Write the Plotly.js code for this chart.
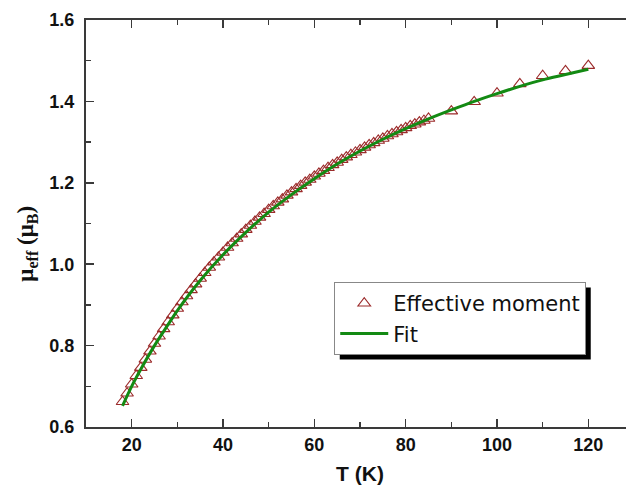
<!DOCTYPE html>
<html>
<head>
<meta charset="utf-8">
<script src="https://cdn.plot.ly/plotly-3.0.1.min.js"></script>
<style>
  html, body { margin: 0; padding: 0; overflow: hidden; background: #fff; }
  #chart { width: 660px; height: 486px; }
</style>
</head>
<body>
<div id="chart"></div>
<script>
// Measured effective moment (T in K, mu_eff in mu_B)
const tempK = [18,19,20,21,22,23,24,25,26,27,28,29,30,31,32,33,34,35,36,37,38,39,40,
  41,42,43,44,45,46,47,48,49,50,51,52,53,54,55,56,57,58,59,60,61,62,63,64,65,66,67,68,69,70,
  71,72,73,74,75,76,77,78,79,80,81,82,83,84,85,90,95,100,105,110,115,120];
const muEff = [0.662,0.683,0.705,0.726,0.746,0.766,0.786,0.805,0.823,0.841,0.858,0.875,0.891,
  0.907,0.922,0.937,0.951,0.965,0.979,0.992,1.005,1.017,1.029,1.041,1.052,1.063,1.074,1.085,
  1.095,1.105,1.115,1.124,1.134,1.143,1.152,1.160,1.169,1.177,1.185,1.193,1.201,1.208,1.216,
  1.223,1.230,1.237,1.244,1.250,1.257,1.263,1.269,1.275,1.281,1.287,1.293,1.298,1.304,1.309,
  1.315,1.320,1.325,1.330,1.335,1.340,1.344,1.349,1.353,1.358,1.376,1.399,1.420,1.443,1.463,
  1.475,1.488];

// Fit curve
const fitT = [18,20,22,25,28,30,35,40,45,50,55,60,65,70,75,80,85,90,95,100,105,110,115,120];
const fitMu = [0.652,0.700,0.742,0.800,0.852,0.886,0.960,1.023,1.078,1.128,1.171,1.210,1.246,
  1.278,1.307,1.333,1.357,1.379,1.400,1.419,1.437,1.453,1.466,1.479];

const xTickVals = [20,40,60,80,100,120];
const yTickVals = [0.6,0.8,1.0,1.2,1.4,1.6];
const seriesNames = ['Effective moment', 'Fit'];

const traces = [
  {
    x: tempK, y: muEff, name: seriesNames[0], type: 'scatter', mode: 'markers',
    marker: { symbol: 'triangle-up-open', size: 11, color: '#9b2a2a', line: { width: 1.1, color: '#9b2a2a' } }
  },
  {
    x: fitT, y: fitMu, name: seriesNames[1], type: 'scatter', mode: 'lines',
    line: { color: '#138a13', width: 3, shape: 'spline', smoothing: 1 }
  }
];

const axisCommon = {
  showline: true, linecolor: '#3a3a3a', linewidth: 2, mirror: 'ticks',
  ticks: 'inside', ticklen: 8, tickwidth: 1.6, tickcolor: '#3a3a3a',
  showgrid: false, zeroline: false,
  tickfont: { family: 'Liberation Sans, Arial, sans-serif', size: 18, color: '#111', weight: 'bold' }
};

const layout = {
  width: 660, height: 486,
  margin: { l: 86, r: 26, t: 20, b: 59 },
  paper_bgcolor: '#fff', plot_bgcolor: '#fff',
  showlegend: true,
  xaxis: Object.assign({}, axisCommon, {
    range: [10, 130], tickvals: xTickVals, ticktext: xTickVals.map(String),
    minor: { dtick: 10, tick0: 10, ticks: 'inside', ticklen: 5, tickwidth: 1.4, tickcolor: '#3a3a3a' },
    title: { text: '<b>T (K)</b>', font: { family: 'Liberation Sans, Arial, sans-serif', size: 21, color: '#111' }, standoff: 13 }
  }),
  yaxis: Object.assign({}, axisCommon, {
    range: [0.6, 1.6], tickvals: yTickVals, ticktext: yTickVals.map(v => v.toFixed(1)),
    minor: { dtick: 0.1, tick0: 0.6, ticks: 'inside', ticklen: 5, tickwidth: 1.4, tickcolor: '#3a3a3a' },
    ticklabelstandoff: 6
  }),
  legend: {
    x: 0.453, y: 0.356, xanchor: 'left', yanchor: 'top',
    bgcolor: '#fff', bordercolor: '#888', borderwidth: 1,
    font: { family: 'DejaVu Sans, sans-serif', size: 21, color: '#111' },
    itemwidth: 48
  },
  shapes: [],
  annotations: [
    { xref: 'paper', yref: 'paper', x: -0.108, y: 0.45, xanchor: 'center', yanchor: 'middle',
      textangle: -90, showarrow: false,
      text: '<b>μ<sub>eff</sub> (μ<sub>B</sub>)</b>',
      font: { family: 'Liberation Serif, Times New Roman, serif', size: 23, color: '#111' } }
  ]
};

Plotly.newPlot('chart', traces, layout, { displayModeBar: false, staticPlot: true }).then(gd => {
  const bg = gd.querySelector('.legend .bg');
  if (!bg) return;
  const r = bg.getBoundingClientRect();
  const c = gd.getBoundingClientRect();
  const s = gd._fullLayout._size;
  const dx = 5, dy = 5;
  const toX = px => (px - s.l) / s.w;
  const toY = py => 1 - (py - s.t) / s.h;
  const x0 = r.left - c.left + dx, x1 = r.right - c.left + dx;
  const y0 = r.top - c.top + dy, y1 = r.bottom - c.top + dy;
  return Plotly.relayout(gd, { shapes: [
    { type: 'rect', xref: 'paper', yref: 'paper', x0: toX(x0), x1: toX(x1), y0: toY(y1), y1: toY(y0),
      fillcolor: '#000', line: { width: 0 }, layer: 'above' }
  ] });
});
</script>
</body>
</html>
